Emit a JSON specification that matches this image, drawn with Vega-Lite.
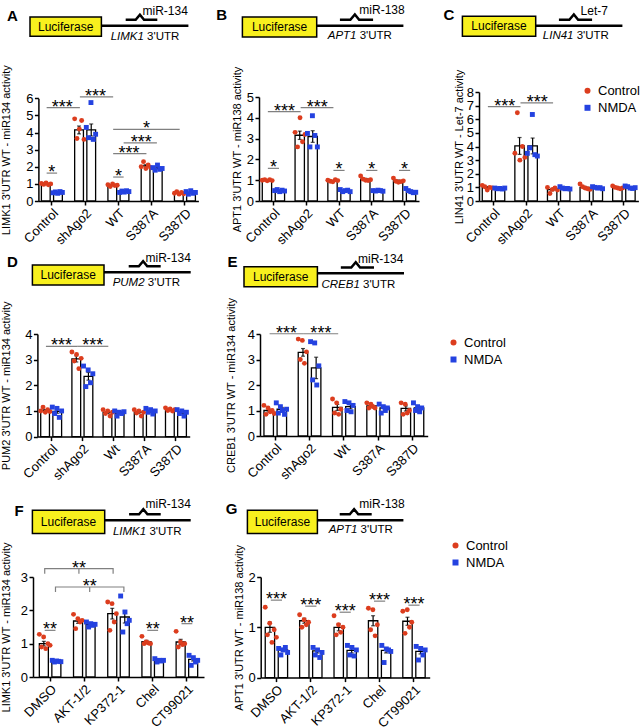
{
"$schema": "https://vega.github.io/schema/vega-lite/v6.json",
"padding": 0,
"config": {
 "font": "Liberation Sans",
 "view": {"stroke": null},
 "axis": {"domainColor": "black", "domainWidth": 1.5, "tickColor": "black", "tickWidth": 1.5, "tickSize": 4, "labelColor": "black", "labelFontSize": 12, "labelFont": "Liberation Sans", "titleFont": "Liberation Sans", "titleFontSize": 11, "titleFontWeight": "normal", "titleColor": "black", "grid": false, "labelPadding": 1.5},
 "axisX": {"labelAngle": -45, "title": null, "labelFontSize": 13},
 "axisY": {"labelFontSize": 13, "format": "d", "labelOverlap": false, "labelFlush": false},
 "legend": {"labelFont": "Liberation Sans", "labelFontSize": 13, "labelColor": "black", "symbolSize": 36, "rowPadding": 3, "padding": 0, "labelOffset": 4, "symbolStrokeWidth": 0, "title": null},
 "text": {"color": "black", "font": "Liberation Sans"}
},
"datasets": {
"bars": [
{"p":"A","g":"Control","c":"Control","m":1.0,"e":0.02},{"p":"A","g":"Control","c":"NMDA","m":0.5,"e":0.02},
{"p":"A","g":"shAgo2","c":"Control","m":4.15,"e":0.23},{"p":"A","g":"shAgo2","c":"NMDA","m":4.15,"e":0.35},
{"p":"A","g":"WT","c":"Control","m":0.92,"e":0.03},{"p":"A","g":"WT","c":"NMDA","m":0.55,"e":0.02},
{"p":"A","g":"S387A","c":"Control","m":2.05,"e":0.07},{"p":"A","g":"S387A","c":"NMDA","m":1.92,"e":0.05},
{"p":"A","g":"S387D","c":"Control","m":0.46,"e":0.03},{"p":"A","g":"S387D","c":"NMDA","m":0.5,"e":0.04},
{"p":"B","g":"Control","c":"Control","m":1.0,"e":0.01},{"p":"B","g":"Control","c":"NMDA","m":0.5,"e":0.02},
{"p":"B","g":"shAgo2","c":"Control","m":3.16,"e":0.2},{"p":"B","g":"shAgo2","c":"NMDA","m":3.1,"e":0.28},
{"p":"B","g":"WT","c":"Control","m":0.97,"e":0.02},{"p":"B","g":"WT","c":"NMDA","m":0.49,"e":0.02},
{"p":"B","g":"S387A","c":"Control","m":1.05,"e":0.04},{"p":"B","g":"S387A","c":"NMDA","m":0.49,"e":0.01},
{"p":"B","g":"S387D","c":"Control","m":0.97,"e":0.04},{"p":"B","g":"S387D","c":"NMDA","m":0.47,"e":0.04},
{"p":"C","g":"Control","c":"Control","m":1.0,"e":0.06},{"p":"C","g":"Control","c":"NMDA","m":0.92,"e":0.015},
{"p":"C","g":"shAgo2","c":"Control","m":4.04,"e":0.62},{"p":"C","g":"shAgo2","c":"NMDA","m":4.04,"e":0.58},
{"p":"C","g":"WT","c":"Control","m":0.83,"e":0.08},{"p":"C","g":"WT","c":"NMDA","m":0.94,"e":0.03},
{"p":"C","g":"S387A","c":"Control","m":1.0,"e":0.07},{"p":"C","g":"S387A","c":"NMDA","m":0.98,"e":0.03},
{"p":"C","g":"S387D","c":"Control","m":0.98,"e":0.03},{"p":"C","g":"S387D","c":"NMDA","m":1.0,"e":0.03},
{"p":"D","g":"Control","c":"Control","m":1.02,"e":0.03},{"p":"D","g":"Control","c":"NMDA","m":0.98,"e":0.07},
{"p":"D","g":"shAgo2","c":"Control","m":3.03,"e":0.12},{"p":"D","g":"shAgo2","c":"NMDA","m":2.35,"e":0.15},
{"p":"D","g":"Wt","c":"Control","m":0.94,"e":0.04},{"p":"D","g":"Wt","c":"NMDA","m":0.92,"e":0.03},
{"p":"D","g":"S387A","c":"Control","m":0.95,"e":0.04},{"p":"D","g":"S387A","c":"NMDA","m":0.99,"e":0.04},
{"p":"D","g":"S387D","c":"Control","m":1.05,"e":0.02},{"p":"D","g":"S387D","c":"NMDA","m":0.94,"e":0.04},
{"p":"E","g":"Control","c":"Control","m":1.0,"e":0.06},{"p":"E","g":"Control","c":"NMDA","m":1.05,"e":0.07},
{"p":"E","g":"shAgo2","c":"Control","m":3.28,"e":0.15},{"p":"E","g":"shAgo2","c":"NMDA","m":2.67,"e":0.42},
{"p":"E","g":"Wt","c":"Control","m":1.12,"e":0.12},{"p":"E","g":"Wt","c":"NMDA","m":1.15,"e":0.08},
{"p":"E","g":"S387A","c":"Control","m":1.18,"e":0.04},{"p":"E","g":"S387A","c":"NMDA","m":1.1,"e":0.06},
{"p":"E","g":"S387D","c":"Control","m":1.08,"e":0.1},{"p":"E","g":"S387D","c":"NMDA","m":1.1,"e":0.05},
{"p":"F","g":"DMSO","c":"Control","m":1.0,"e":0.07},{"p":"F","g":"DMSO","c":"NMDA","m":0.47,"e":0.01},
{"p":"F","g":"AKT-1/2","c":"Control","m":1.68,"e":0.07},{"p":"F","g":"AKT-1/2","c":"NMDA","m":1.57,"e":0.03},
{"p":"F","g":"KP372-1","c":"Control","m":1.9,"e":0.16},{"p":"F","g":"KP372-1","c":"NMDA","m":1.8,"e":0.18},
{"p":"F","g":"Chel","c":"Control","m":1.06,"e":0.04},{"p":"F","g":"Chel","c":"NMDA","m":0.5,"e":0.03},
{"p":"F","g":"CT99021","c":"Control","m":1.05,"e":0.08},{"p":"F","g":"CT99021","c":"NMDA","m":0.53,"e":0.05},
{"p":"G","g":"DMSO","c":"Control","m":1.0,"e":0.1},{"p":"G","g":"DMSO","c":"NMDA","m":0.55,"e":0.03},
{"p":"G","g":"AKT-1/2","c":"Control","m":1.13,"e":0.05},{"p":"G","g":"AKT-1/2","c":"NMDA","m":0.53,"e":0.04},
{"p":"G","g":"KP372-1","c":"Control","m":1.0,"e":0.07},{"p":"G","g":"KP372-1","c":"NMDA","m":0.54,"e":0.05},
{"p":"G","g":"Chel","c":"Control","m":1.13,"e":0.1},{"p":"G","g":"Chel","c":"NMDA","m":0.54,"e":0.05},
{"p":"G","g":"CT99021","c":"Control","m":1.12,"e":0.08},{"p":"G","g":"CT99021","c":"NMDA","m":0.52,"e":0.05}
],
"pts": [
{"p":"A","g":"Control","c":"Control","v":1.02},{"p":"A","g":"Control","c":"Control","v":0.97},{"p":"A","g":"Control","c":"Control","v":1.05},{"p":"A","g":"Control","c":"Control","v":0.95},{"p":"A","g":"Control","c":"Control","v":1.0},
{"p":"A","g":"Control","c":"NMDA","v":0.48},{"p":"A","g":"Control","c":"NMDA","v":0.53},{"p":"A","g":"Control","c":"NMDA","v":0.45},{"p":"A","g":"Control","c":"NMDA","v":0.55},{"p":"A","g":"Control","c":"NMDA","v":0.5},
{"p":"A","g":"shAgo2","c":"Control","v":4.8},{"p":"A","g":"shAgo2","c":"Control","v":3.65},{"p":"A","g":"shAgo2","c":"Control","v":4.2},{"p":"A","g":"shAgo2","c":"Control","v":4.7},{"p":"A","g":"shAgo2","c":"Control","v":3.6},
{"p":"A","g":"shAgo2","c":"NMDA","v":4.3},{"p":"A","g":"shAgo2","c":"NMDA","v":3.7},{"p":"A","g":"shAgo2","c":"NMDA","v":5.75},{"p":"A","g":"shAgo2","c":"NMDA","v":3.6},{"p":"A","g":"shAgo2","c":"NMDA","v":3.9},
{"p":"A","g":"WT","c":"Control","v":0.95},{"p":"A","g":"WT","c":"Control","v":0.85},{"p":"A","g":"WT","c":"Control","v":1.0},{"p":"A","g":"WT","c":"Control","v":0.9},{"p":"A","g":"WT","c":"Control","v":0.92},
{"p":"A","g":"WT","c":"NMDA","v":0.5},{"p":"A","g":"WT","c":"NMDA","v":0.58},{"p":"A","g":"WT","c":"NMDA","v":0.52},{"p":"A","g":"WT","c":"NMDA","v":0.6},{"p":"A","g":"WT","c":"NMDA","v":0.55},
{"p":"A","g":"S387A","c":"Control","v":2.0},{"p":"A","g":"S387A","c":"Control","v":2.3},{"p":"A","g":"S387A","c":"Control","v":1.9},{"p":"A","g":"S387A","c":"Control","v":2.1},{"p":"A","g":"S387A","c":"Control","v":1.95},
{"p":"A","g":"S387A","c":"NMDA","v":1.95},{"p":"A","g":"S387A","c":"NMDA","v":1.8},{"p":"A","g":"S387A","c":"NMDA","v":2.1},{"p":"A","g":"S387A","c":"NMDA","v":1.85},{"p":"A","g":"S387A","c":"NMDA","v":1.9},
{"p":"A","g":"S387D","c":"Control","v":0.45},{"p":"A","g":"S387D","c":"Control","v":0.55},{"p":"A","g":"S387D","c":"Control","v":0.4},{"p":"A","g":"S387D","c":"Control","v":0.5},{"p":"A","g":"S387D","c":"Control","v":0.42},
{"p":"A","g":"S387D","c":"NMDA","v":0.55},{"p":"A","g":"S387D","c":"NMDA","v":0.4},{"p":"A","g":"S387D","c":"NMDA","v":0.6},{"p":"A","g":"S387D","c":"NMDA","v":0.45},{"p":"A","g":"S387D","c":"NMDA","v":0.5},
{"p":"B","g":"Control","c":"Control","v":1.0},{"p":"B","g":"Control","c":"Control","v":1.03},{"p":"B","g":"Control","c":"Control","v":0.97},{"p":"B","g":"Control","c":"Control","v":1.02},{"p":"B","g":"Control","c":"Control","v":0.98},
{"p":"B","g":"Control","c":"NMDA","v":0.5},{"p":"B","g":"Control","c":"NMDA","v":0.55},{"p":"B","g":"Control","c":"NMDA","v":0.45},{"p":"B","g":"Control","c":"NMDA","v":0.52},{"p":"B","g":"Control","c":"NMDA","v":0.48},
{"p":"B","g":"shAgo2","c":"Control","v":3.3},{"p":"B","g":"shAgo2","c":"Control","v":2.6},{"p":"B","g":"shAgo2","c":"Control","v":4.0},{"p":"B","g":"shAgo2","c":"Control","v":2.85},{"p":"B","g":"shAgo2","c":"Control","v":3.2},
{"p":"B","g":"shAgo2","c":"NMDA","v":3.25},{"p":"B","g":"shAgo2","c":"NMDA","v":2.6},{"p":"B","g":"shAgo2","c":"NMDA","v":4.1},{"p":"B","g":"shAgo2","c":"NMDA","v":3.15},{"p":"B","g":"shAgo2","c":"NMDA","v":2.6},
{"p":"B","g":"WT","c":"Control","v":1.0},{"p":"B","g":"WT","c":"Control","v":0.95},{"p":"B","g":"WT","c":"Control","v":0.92},{"p":"B","g":"WT","c":"Control","v":1.02},{"p":"B","g":"WT","c":"Control","v":0.98},
{"p":"B","g":"WT","c":"NMDA","v":0.55},{"p":"B","g":"WT","c":"NMDA","v":0.45},{"p":"B","g":"WT","c":"NMDA","v":0.5},{"p":"B","g":"WT","c":"NMDA","v":0.52},{"p":"B","g":"WT","c":"NMDA","v":0.45},
{"p":"B","g":"S387A","c":"Control","v":1.2},{"p":"B","g":"S387A","c":"Control","v":1.05},{"p":"B","g":"S387A","c":"Control","v":1.0},{"p":"B","g":"S387A","c":"Control","v":0.98},{"p":"B","g":"S387A","c":"Control","v":1.02},
{"p":"B","g":"S387A","c":"NMDA","v":0.5},{"p":"B","g":"S387A","c":"NMDA","v":0.48},{"p":"B","g":"S387A","c":"NMDA","v":0.52},{"p":"B","g":"S387A","c":"NMDA","v":0.5},{"p":"B","g":"S387A","c":"NMDA","v":0.47},
{"p":"B","g":"S387D","c":"Control","v":1.1},{"p":"B","g":"S387D","c":"Control","v":0.95},{"p":"B","g":"S387D","c":"Control","v":0.9},{"p":"B","g":"S387D","c":"Control","v":0.93},{"p":"B","g":"S387D","c":"Control","v":0.97},
{"p":"B","g":"S387D","c":"NMDA","v":0.6},{"p":"B","g":"S387D","c":"NMDA","v":0.5},{"p":"B","g":"S387D","c":"NMDA","v":0.45},{"p":"B","g":"S387D","c":"NMDA","v":0.4},{"p":"B","g":"S387D","c":"NMDA","v":0.42},
{"p":"C","g":"Control","c":"Control","v":1.15},{"p":"C","g":"Control","c":"Control","v":1.05},{"p":"C","g":"Control","c":"Control","v":0.8},{"p":"C","g":"Control","c":"Control","v":1.0},{"p":"C","g":"Control","c":"Control","v":0.95},
{"p":"C","g":"Control","c":"NMDA","v":0.95},{"p":"C","g":"Control","c":"NMDA","v":0.9},{"p":"C","g":"Control","c":"NMDA","v":0.92},{"p":"C","g":"Control","c":"NMDA","v":0.88},{"p":"C","g":"Control","c":"NMDA","v":0.95},
{"p":"C","g":"shAgo2","c":"Control","v":3.5},{"p":"C","g":"shAgo2","c":"Control","v":6.48},{"p":"C","g":"shAgo2","c":"Control","v":3.0},{"p":"C","g":"shAgo2","c":"Control","v":4.0},{"p":"C","g":"shAgo2","c":"Control","v":3.2},
{"p":"C","g":"shAgo2","c":"NMDA","v":3.5},{"p":"C","g":"shAgo2","c":"NMDA","v":3.9},{"p":"C","g":"shAgo2","c":"NMDA","v":6.35},{"p":"C","g":"shAgo2","c":"NMDA","v":3.4},{"p":"C","g":"shAgo2","c":"NMDA","v":3.3},
{"p":"C","g":"WT","c":"Control","v":1.0},{"p":"C","g":"WT","c":"Control","v":0.55},{"p":"C","g":"WT","c":"Control","v":0.85},{"p":"C","g":"WT","c":"Control","v":0.95},{"p":"C","g":"WT","c":"Control","v":0.8},
{"p":"C","g":"WT","c":"NMDA","v":1.05},{"p":"C","g":"WT","c":"NMDA","v":0.95},{"p":"C","g":"WT","c":"NMDA","v":0.9},{"p":"C","g":"WT","c":"NMDA","v":0.92},{"p":"C","g":"WT","c":"NMDA","v":0.88},
{"p":"C","g":"S387A","c":"Control","v":1.25},{"p":"C","g":"S387A","c":"Control","v":1.05},{"p":"C","g":"S387A","c":"Control","v":0.95},{"p":"C","g":"S387A","c":"Control","v":0.9},{"p":"C","g":"S387A","c":"Control","v":0.85},
{"p":"C","g":"S387A","c":"NMDA","v":1.05},{"p":"C","g":"S387A","c":"NMDA","v":1.0},{"p":"C","g":"S387A","c":"NMDA","v":0.95},{"p":"C","g":"S387A","c":"NMDA","v":0.98},{"p":"C","g":"S387A","c":"NMDA","v":0.9},
{"p":"C","g":"S387D","c":"Control","v":1.1},{"p":"C","g":"S387D","c":"Control","v":1.0},{"p":"C","g":"S387D","c":"Control","v":0.95},{"p":"C","g":"S387D","c":"Control","v":0.9},{"p":"C","g":"S387D","c":"Control","v":0.95},
{"p":"C","g":"S387D","c":"NMDA","v":1.1},{"p":"C","g":"S387D","c":"NMDA","v":1.05},{"p":"C","g":"S387D","c":"NMDA","v":0.95},{"p":"C","g":"S387D","c":"NMDA","v":0.92},{"p":"C","g":"S387D","c":"NMDA","v":0.98},
{"p":"D","g":"Control","c":"Control","v":1.0},{"p":"D","g":"Control","c":"Control","v":1.15},{"p":"D","g":"Control","c":"Control","v":0.95},{"p":"D","g":"Control","c":"Control","v":1.05},{"p":"D","g":"Control","c":"Control","v":0.98},
{"p":"D","g":"Control","c":"NMDA","v":1.15},{"p":"D","g":"Control","c":"NMDA","v":0.9},{"p":"D","g":"Control","c":"NMDA","v":1.1},{"p":"D","g":"Control","c":"NMDA","v":0.75},{"p":"D","g":"Control","c":"NMDA","v":1.0},
{"p":"D","g":"shAgo2","c":"Control","v":3.3},{"p":"D","g":"shAgo2","c":"Control","v":2.95},{"p":"D","g":"shAgo2","c":"Control","v":3.2},{"p":"D","g":"shAgo2","c":"Control","v":2.65},{"p":"D","g":"shAgo2","c":"Control","v":3.05},
{"p":"D","g":"shAgo2","c":"NMDA","v":2.75},{"p":"D","g":"shAgo2","c":"NMDA","v":1.95},{"p":"D","g":"shAgo2","c":"NMDA","v":2.6},{"p":"D","g":"shAgo2","c":"NMDA","v":2.1},{"p":"D","g":"shAgo2","c":"NMDA","v":2.45},
{"p":"D","g":"Wt","c":"Control","v":1.05},{"p":"D","g":"Wt","c":"Control","v":0.9},{"p":"D","g":"Wt","c":"Control","v":1.0},{"p":"D","g":"Wt","c":"Control","v":0.8},{"p":"D","g":"Wt","c":"Control","v":0.95},
{"p":"D","g":"Wt","c":"NMDA","v":1.0},{"p":"D","g":"Wt","c":"NMDA","v":0.8},{"p":"D","g":"Wt","c":"NMDA","v":0.95},{"p":"D","g":"Wt","c":"NMDA","v":0.9},{"p":"D","g":"Wt","c":"NMDA","v":0.97},
{"p":"D","g":"S387A","c":"Control","v":1.05},{"p":"D","g":"S387A","c":"Control","v":0.92},{"p":"D","g":"S387A","c":"Control","v":1.0},{"p":"D","g":"S387A","c":"Control","v":0.8},{"p":"D","g":"S387A","c":"Control","v":0.95},
{"p":"D","g":"S387A","c":"NMDA","v":1.1},{"p":"D","g":"S387A","c":"NMDA","v":0.95},{"p":"D","g":"S387A","c":"NMDA","v":1.05},{"p":"D","g":"S387A","c":"NMDA","v":0.88},{"p":"D","g":"S387A","c":"NMDA","v":1.0},
{"p":"D","g":"S387D","c":"Control","v":1.12},{"p":"D","g":"S387D","c":"Control","v":1.02},{"p":"D","g":"S387D","c":"Control","v":1.08},{"p":"D","g":"S387D","c":"Control","v":1.0},{"p":"D","g":"S387D","c":"Control","v":1.05},
{"p":"D","g":"S387D","c":"NMDA","v":1.05},{"p":"D","g":"S387D","c":"NMDA","v":0.9},{"p":"D","g":"S387D","c":"NMDA","v":1.0},{"p":"D","g":"S387D","c":"NMDA","v":0.8},{"p":"D","g":"S387D","c":"NMDA","v":0.95},
{"p":"E","g":"Control","c":"Control","v":1.2},{"p":"E","g":"Control","c":"Control","v":0.85},{"p":"E","g":"Control","c":"Control","v":1.1},{"p":"E","g":"Control","c":"Control","v":0.95},{"p":"E","g":"Control","c":"Control","v":1.0},{"p":"E","g":"Control","c":"Control","v":0.88},
{"p":"E","g":"Control","c":"NMDA","v":1.3},{"p":"E","g":"Control","c":"NMDA","v":0.9},{"p":"E","g":"Control","c":"NMDA","v":1.15},{"p":"E","g":"Control","c":"NMDA","v":1.0},{"p":"E","g":"Control","c":"NMDA","v":0.85},{"p":"E","g":"Control","c":"NMDA","v":1.05},
{"p":"E","g":"shAgo2","c":"Control","v":3.8},{"p":"E","g":"shAgo2","c":"Control","v":3.0},{"p":"E","g":"shAgo2","c":"Control","v":3.75},{"p":"E","g":"shAgo2","c":"Control","v":2.85},{"p":"E","g":"shAgo2","c":"Control","v":3.3},
{"p":"E","g":"shAgo2","c":"NMDA","v":3.7},{"p":"E","g":"shAgo2","c":"NMDA","v":2.2},{"p":"E","g":"shAgo2","c":"NMDA","v":3.65},{"p":"E","g":"shAgo2","c":"NMDA","v":2.0},{"p":"E","g":"shAgo2","c":"NMDA","v":2.75},
{"p":"E","g":"Wt","c":"Control","v":1.45},{"p":"E","g":"Wt","c":"Control","v":0.9},{"p":"E","g":"Wt","c":"Control","v":1.3},{"p":"E","g":"Wt","c":"Control","v":0.85},{"p":"E","g":"Wt","c":"Control","v":1.05},
{"p":"E","g":"Wt","c":"NMDA","v":1.35},{"p":"E","g":"Wt","c":"NMDA","v":1.0},{"p":"E","g":"Wt","c":"NMDA","v":1.3},{"p":"E","g":"Wt","c":"NMDA","v":0.95},{"p":"E","g":"Wt","c":"NMDA","v":1.2},
{"p":"E","g":"S387A","c":"Control","v":1.3},{"p":"E","g":"S387A","c":"Control","v":1.1},{"p":"E","g":"S387A","c":"Control","v":1.25},{"p":"E","g":"S387A","c":"Control","v":1.15},{"p":"E","g":"S387A","c":"Control","v":1.1},
{"p":"E","g":"S387A","c":"NMDA","v":1.25},{"p":"E","g":"S387A","c":"NMDA","v":0.9},{"p":"E","g":"S387A","c":"NMDA","v":1.15},{"p":"E","g":"S387A","c":"NMDA","v":1.0},{"p":"E","g":"S387A","c":"NMDA","v":1.1},
{"p":"E","g":"S387D","c":"Control","v":1.3},{"p":"E","g":"S387D","c":"Control","v":0.85},{"p":"E","g":"S387D","c":"Control","v":1.25},{"p":"E","g":"S387D","c":"Control","v":0.9},{"p":"E","g":"S387D","c":"Control","v":1.0},
{"p":"E","g":"S387D","c":"NMDA","v":1.3},{"p":"E","g":"S387D","c":"NMDA","v":1.0},{"p":"E","g":"S387D","c":"NMDA","v":1.15},{"p":"E","g":"S387D","c":"NMDA","v":0.95},{"p":"E","g":"S387D","c":"NMDA","v":1.1},
{"p":"F","g":"DMSO","c":"Control","v":1.28},{"p":"F","g":"DMSO","c":"Control","v":0.9},{"p":"F","g":"DMSO","c":"Control","v":1.2},{"p":"F","g":"DMSO","c":"Control","v":0.85},{"p":"F","g":"DMSO","c":"Control","v":1.0},{"p":"F","g":"DMSO","c":"Control","v":0.95},
{"p":"F","g":"DMSO","c":"NMDA","v":0.5},{"p":"F","g":"DMSO","c":"NMDA","v":0.45},{"p":"F","g":"DMSO","c":"NMDA","v":0.48},{"p":"F","g":"DMSO","c":"NMDA","v":0.47},{"p":"F","g":"DMSO","c":"NMDA","v":0.46},
{"p":"F","g":"AKT-1/2","c":"Control","v":1.88},{"p":"F","g":"AKT-1/2","c":"Control","v":1.45},{"p":"F","g":"AKT-1/2","c":"Control","v":1.75},{"p":"F","g":"AKT-1/2","c":"Control","v":1.65},{"p":"F","g":"AKT-1/2","c":"Control","v":1.7},
{"p":"F","g":"AKT-1/2","c":"NMDA","v":1.65},{"p":"F","g":"AKT-1/2","c":"NMDA","v":1.5},{"p":"F","g":"AKT-1/2","c":"NMDA","v":1.6},{"p":"F","g":"AKT-1/2","c":"NMDA","v":1.55},{"p":"F","g":"AKT-1/2","c":"NMDA","v":1.58},
{"p":"F","g":"KP372-1","c":"Control","v":2.25},{"p":"F","g":"KP372-1","c":"Control","v":1.4},{"p":"F","g":"KP372-1","c":"Control","v":2.2},{"p":"F","g":"KP372-1","c":"Control","v":1.65},{"p":"F","g":"KP372-1","c":"Control","v":1.9},
{"p":"F","g":"KP372-1","c":"NMDA","v":2.43},{"p":"F","g":"KP372-1","c":"NMDA","v":1.35},{"p":"F","g":"KP372-1","c":"NMDA","v":1.95},{"p":"F","g":"KP372-1","c":"NMDA","v":1.6},{"p":"F","g":"KP372-1","c":"NMDA","v":1.7},
{"p":"F","g":"Chel","c":"Control","v":1.22},{"p":"F","g":"Chel","c":"Control","v":1.0},{"p":"F","g":"Chel","c":"Control","v":1.05},{"p":"F","g":"Chel","c":"Control","v":1.02},{"p":"F","g":"Chel","c":"Control","v":1.0},
{"p":"F","g":"Chel","c":"NMDA","v":0.55},{"p":"F","g":"Chel","c":"NMDA","v":0.45},{"p":"F","g":"Chel","c":"NMDA","v":0.5},{"p":"F","g":"Chel","c":"NMDA","v":0.48},{"p":"F","g":"Chel","c":"NMDA","v":0.5},
{"p":"F","g":"CT99021","c":"Control","v":1.37},{"p":"F","g":"CT99021","c":"Control","v":0.9},{"p":"F","g":"CT99021","c":"Control","v":1.05},{"p":"F","g":"CT99021","c":"Control","v":0.97},{"p":"F","g":"CT99021","c":"Control","v":1.0},
{"p":"F","g":"CT99021","c":"NMDA","v":0.65},{"p":"F","g":"CT99021","c":"NMDA","v":0.35},{"p":"F","g":"CT99021","c":"NMDA","v":0.58},{"p":"F","g":"CT99021","c":"NMDA","v":0.45},{"p":"F","g":"CT99021","c":"NMDA","v":0.5},
{"p":"G","g":"DMSO","c":"Control","v":1.4},{"p":"G","g":"DMSO","c":"Control","v":0.85},{"p":"G","g":"DMSO","c":"Control","v":1.08},{"p":"G","g":"DMSO","c":"Control","v":0.7},{"p":"G","g":"DMSO","c":"Control","v":0.95},{"p":"G","g":"DMSO","c":"Control","v":0.8},
{"p":"G","g":"DMSO","c":"NMDA","v":0.58},{"p":"G","g":"DMSO","c":"NMDA","v":0.45},{"p":"G","g":"DMSO","c":"NMDA","v":0.55},{"p":"G","g":"DMSO","c":"NMDA","v":0.6},{"p":"G","g":"DMSO","c":"NMDA","v":0.5},
{"p":"G","g":"AKT-1/2","c":"Control","v":1.25},{"p":"G","g":"AKT-1/2","c":"Control","v":1.0},{"p":"G","g":"AKT-1/2","c":"Control","v":1.15},{"p":"G","g":"AKT-1/2","c":"Control","v":1.05},{"p":"G","g":"AKT-1/2","c":"Control","v":1.1},
{"p":"G","g":"AKT-1/2","c":"NMDA","v":0.6},{"p":"G","g":"AKT-1/2","c":"NMDA","v":0.45},{"p":"G","g":"AKT-1/2","c":"NMDA","v":0.55},{"p":"G","g":"AKT-1/2","c":"NMDA","v":0.4},{"p":"G","g":"AKT-1/2","c":"NMDA","v":0.5},
{"p":"G","g":"KP372-1","c":"Control","v":1.23},{"p":"G","g":"KP372-1","c":"Control","v":0.85},{"p":"G","g":"KP372-1","c":"Control","v":1.05},{"p":"G","g":"KP372-1","c":"Control","v":0.9},{"p":"G","g":"KP372-1","c":"Control","v":1.0},
{"p":"G","g":"KP372-1","c":"NMDA","v":0.64},{"p":"G","g":"KP372-1","c":"NMDA","v":0.45},{"p":"G","g":"KP372-1","c":"NMDA","v":0.6},{"p":"G","g":"KP372-1","c":"NMDA","v":0.43},{"p":"G","g":"KP372-1","c":"NMDA","v":0.55},
{"p":"G","g":"Chel","c":"Control","v":1.38},{"p":"G","g":"Chel","c":"Control","v":0.95},{"p":"G","g":"Chel","c":"Control","v":1.35},{"p":"G","g":"Chel","c":"Control","v":0.83},{"p":"G","g":"Chel","c":"Control","v":1.05},
{"p":"G","g":"Chel","c":"NMDA","v":0.64},{"p":"G","g":"Chel","c":"NMDA","v":0.3},{"p":"G","g":"Chel","c":"NMDA","v":0.57},{"p":"G","g":"Chel","c":"NMDA","v":0.55},{"p":"G","g":"Chel","c":"NMDA","v":0.52},
{"p":"G","g":"CT99021","c":"Control","v":1.32},{"p":"G","g":"CT99021","c":"Control","v":0.88},{"p":"G","g":"CT99021","c":"Control","v":1.35},{"p":"G","g":"CT99021","c":"Control","v":1.0},{"p":"G","g":"CT99021","c":"Control","v":1.1},
{"p":"G","g":"CT99021","c":"NMDA","v":0.62},{"p":"G","g":"CT99021","c":"NMDA","v":0.35},{"p":"G","g":"CT99021","c":"NMDA","v":0.58},{"p":"G","g":"CT99021","c":"NMDA","v":0.45},{"p":"G","g":"CT99021","c":"NMDA","v":0.55}
],
"br": [
{"p":"A","id":1,"q":1,"g":"Control","o":"C","y":1.63},{"p":"A","id":1,"q":2,"g":"Control","o":"N","y":1.63},
{"p":"A","id":2,"q":1,"g":"Control","o":"C","y":5.45},{"p":"A","id":2,"q":2,"g":"shAgo2","o":"C","y":5.45},
{"p":"A","id":3,"q":1,"g":"shAgo2","o":"C","y":6.08},{"p":"A","id":3,"q":2,"g":"WT","o":"C","y":6.08},
{"p":"A","id":4,"q":1,"g":"WT","o":"C","y":4.18},{"p":"A","id":4,"q":2,"g":"S387D","o":"C","y":4.18},
{"p":"A","id":5,"q":1,"g":"WT","o":"N","y":3.4},{"p":"A","id":5,"q":2,"g":"S387A","o":"N","y":3.4},
{"p":"A","id":6,"q":1,"g":"WT","o":"C","y":2.77},{"p":"A","id":6,"q":2,"g":"S387A","o":"C","y":2.77},
{"p":"A","id":7,"q":1,"g":"WT","o":"C","y":1.4},{"p":"A","id":7,"q":2,"g":"WT","o":"N","y":1.4},
{"p":"B","id":1,"q":1,"g":"Control","o":"C","y":1.57},{"p":"B","id":1,"q":2,"g":"Control","o":"N","y":1.57},
{"p":"B","id":2,"q":1,"g":"Control","o":"C","y":4.3},{"p":"B","id":2,"q":2,"g":"shAgo2","o":"C","y":4.3},
{"p":"B","id":3,"q":1,"g":"shAgo2","o":"C","y":4.49},{"p":"B","id":3,"q":2,"g":"WT","o":"C","y":4.49},
{"p":"B","id":4,"q":1,"g":"WT","o":"C","y":1.47},{"p":"B","id":4,"q":2,"g":"WT","o":"N","y":1.47},
{"p":"B","id":5,"q":1,"g":"S387A","o":"C","y":1.47},{"p":"B","id":5,"q":2,"g":"S387A","o":"N","y":1.47},
{"p":"B","id":6,"q":1,"g":"S387D","o":"C","y":1.47},{"p":"B","id":6,"q":2,"g":"S387D","o":"N","y":1.47},
{"p":"C","id":1,"q":1,"g":"Control","o":"C","y":6.92},{"p":"C","id":1,"q":2,"g":"shAgo2","o":"C","y":6.92},
{"p":"C","id":2,"q":1,"g":"shAgo2","o":"C","y":7.2},{"p":"C","id":2,"q":2,"g":"WT","o":"C","y":7.2},
{"p":"D","id":1,"q":1,"g":"Control","o":"C","y":3.52},{"p":"D","id":1,"q":2,"g":"shAgo2","o":"C","y":3.52},
{"p":"D","id":2,"q":1,"g":"shAgo2","o":"C","y":3.52},{"p":"D","id":2,"q":2,"g":"Wt","o":"C","y":3.52},
{"p":"E","id":1,"q":1,"g":"Control","o":"C","y":4.01},{"p":"E","id":1,"q":2,"g":"shAgo2","o":"C","y":4.01},
{"p":"E","id":2,"q":1,"g":"shAgo2","o":"C","y":4.01},{"p":"E","id":2,"q":2,"g":"Wt","o":"C","y":4.01},
{"p":"F","id":1,"q":1,"g":"DMSO","o":"C","y":1.4},{"p":"F","id":1,"q":2,"g":"DMSO","o":"N","y":1.4},
{"p":"F","id":2,"q":1,"g":"Chel","o":"C","y":1.4},{"p":"F","id":2,"q":2,"g":"Chel","o":"N","y":1.4},
{"p":"F","id":3,"q":1,"g":"CT99021","o":"C","y":1.6},{"p":"F","id":3,"q":2,"g":"CT99021","o":"N","y":1.6},
{"p":"F","id":4,"q":1,"g":"DMSO","o":"C","y":3.1},{"p":"F","id":4,"q":2,"g":"DMSO","o":"C","y":3.25},{"p":"F","id":4,"q":3,"g":"KP372-1","o":"C","y":3.25},{"p":"F","id":4,"q":4,"g":"KP372-1","o":"C","y":3.1},
{"p":"F","id":5,"q":1,"g":"AKT-1/2","o":"C","y":3.25},{"p":"F","id":5,"q":2,"g":"AKT-1/2","o":"C","y":3.1},
{"p":"F","id":6,"q":1,"g":"DMSO","o":"N","y":2.55},{"p":"F","id":6,"q":2,"g":"DMSO","o":"N","y":2.7},{"p":"F","id":6,"q":3,"g":"KP372-1","o":"N","y":2.7},{"p":"F","id":6,"q":4,"g":"KP372-1","o":"N","y":2.55},
{"p":"F","id":7,"q":1,"g":"AKT-1/2","o":"N","y":2.7},{"p":"F","id":7,"q":2,"g":"AKT-1/2","o":"N","y":2.55},
{"p":"G","id":1,"q":1,"g":"DMSO","o":"C","y":1.54},{"p":"G","id":1,"q":2,"g":"DMSO","o":"N","y":1.54},
{"p":"G","id":2,"q":1,"g":"AKT-1/2","o":"C","y":1.42},{"p":"G","id":2,"q":2,"g":"AKT-1/2","o":"N","y":1.42},
{"p":"G","id":3,"q":1,"g":"KP372-1","o":"C","y":1.3},{"p":"G","id":3,"q":2,"g":"KP372-1","o":"N","y":1.3},
{"p":"G","id":4,"q":1,"g":"Chel","o":"C","y":1.52},{"p":"G","id":4,"q":2,"g":"Chel","o":"N","y":1.52},
{"p":"G","id":5,"q":1,"g":"CT99021","o":"C","y":1.44},{"p":"G","id":5,"q":2,"g":"CT99021","o":"N","y":1.44}
],
"lab": [
{"p":"A","g":"Control","o":"M","y":1.63,"t":"*"},{"p":"A","g":"Control","o":"E","y":5.45,"t":"***"},{"p":"A","g":"shAgo2","o":"E","y":6.08,"t":"***"},{"p":"A","g":"S387A","o":"C","y":4.18,"t":"*"},{"p":"A","g":"S387A","o":"S","y":3.4,"t":"***"},{"p":"A","g":"WT","o":"E","y":2.77,"t":"***"},{"p":"A","g":"WT","o":"M","y":1.4,"t":"*"},
{"p":"B","g":"Control","o":"M","y":1.57,"t":"*"},{"p":"B","g":"Control","o":"E","y":4.3,"t":"***"},{"p":"B","g":"shAgo2","o":"E","y":4.49,"t":"***"},{"p":"B","g":"WT","o":"M","y":1.47,"t":"*"},{"p":"B","g":"S387A","o":"M","y":1.47,"t":"*"},{"p":"B","g":"S387D","o":"M","y":1.47,"t":"*"},
{"p":"C","g":"Control","o":"E","y":6.92,"t":"***"},{"p":"C","g":"shAgo2","o":"E","y":7.2,"t":"***"},
{"p":"D","g":"Control","o":"E","y":3.52,"t":"***"},{"p":"D","g":"shAgo2","o":"E","y":3.52,"t":"***"},
{"p":"E","g":"Control","o":"E","y":4.01,"t":"***"},{"p":"E","g":"shAgo2","o":"E","y":4.01,"t":"***"},
{"p":"F","g":"DMSO","o":"M","y":1.4,"t":"**"},{"p":"F","g":"Chel","o":"M","y":1.4,"t":"**"},{"p":"F","g":"CT99021","o":"M","y":1.6,"t":"**"},{"p":"F","g":"AKT-1/2","o":"C","y":3.25,"t":"**"},{"p":"F","g":"AKT-1/2","o":"N","y":2.7,"t":"**"},
{"p":"G","g":"DMSO","o":"M","y":1.54,"t":"***"},{"p":"G","g":"AKT-1/2","o":"M","y":1.42,"t":"***"},{"p":"G","g":"KP372-1","o":"M","y":1.3,"t":"***"},{"p":"G","g":"Chel","o":"M","y":1.52,"t":"***"},{"p":"G","g":"CT99021","o":"M","y":1.44,"t":"***"}
]
},
"columns": 5,
"align": "each",
"bounds": "flush",
"spacing": 0,
"resolve": {"scale": {"color": "independent", "shape": "independent", "xOffset": "independent"}, "legend": {"color": "independent", "shape": "independent"}},
"concat": [
{"width": 165.4, "height": 89, "data": {"values": [{}]},
 "layer": [
  {"mark": {"type": "rect", "fill": "#f8f01e", "stroke": "black", "strokeWidth": 1.5}, "encoding": {"x": {"datum": -3, "type": "quantitative", "scale": {"domain": [0, 165.4], "nice": false, "zero": false}, "axis": null}, "x2": {"datum": 68.4}, "y": {"datum": 14, "type": "quantitative", "scale": {"domain": [0, 89], "reverse": true, "nice": false, "zero": false}, "axis": null}, "y2": {"datum": 33.3}}},
  {"mark": {"type": "text", "text": "Luciferase", "fontSize": 12}, "encoding": {"x": {"datum": 32.7, "type": "quantitative", "axis": null}, "y": {"datum": 23.7, "type": "quantitative", "axis": null}}},
  {"mark": {"type": "rule", "color": "black", "strokeWidth": 2.5}, "encoding": {"x": {"datum": 68.4, "type": "quantitative", "axis": null}, "x2": {"datum": 155.4}, "y": {"datum": 22.7, "type": "quantitative", "axis": null}}},
  {"mark": {"type": "point", "shape": "M-1,0.16L-0.37,0.16L-0.1,-0.16L0.16,0.16L1,0.16", "size": 1000, "filled": false, "stroke": "black", "strokeWidth": 2.5, "opacity": 1}, "encoding": {"x": {"datum": 108.5, "type": "quantitative", "axis": null}, "y": {"datum": 14.2, "type": "quantitative", "axis": null}}},
  {"mark": {"type": "text", "text": "miR-134", "fontSize": 12}, "encoding": {"x": {"datum": 132.2, "type": "quantitative", "axis": null}, "y": {"datum": 7.5, "type": "quantitative", "axis": null}}},
  {"mark": {"type": "text", "text": "LIMK1", "fontSize": 11.5, "fontStyle": "italic", "align": "right"}, "encoding": {"x": {"datum": 110.9, "type": "quantitative", "axis": null}, "y": {"datum": 34, "type": "quantitative", "axis": null}}},
  {"mark": {"type": "text", "text": "3'UTR", "fontSize": 11.5, "align": "left"}, "encoding": {"x": {"datum": 114.1, "type": "quantitative", "axis": null}, "y": {"datum": 34, "type": "quantitative", "axis": null}}},
  {"mark": {"type": "text", "text": "A", "fontSize": 15, "fontWeight": "bold"}, "encoding": {"x": {"datum": -20.6, "type": "quantitative", "axis": null}, "y": {"datum": 12.5, "type": "quantitative", "axis": null}}}
 ]},
{"width": 55, "height": 1, "data": {"values": [{}]}, "mark": {"type": "point", "opacity": 0}},
{"width": 160, "height": 89, "data": {"values": [{}]},
 "layer": [
  {"mark": {"type": "rect", "fill": "#f8f01e", "stroke": "black", "strokeWidth": 1.5}, "encoding": {"x": {"datum": -16.6, "type": "quantitative", "scale": {"domain": [0, 160], "nice": false, "zero": false}, "axis": null}, "x2": {"datum": 57.7}, "y": {"datum": 14, "type": "quantitative", "scale": {"domain": [0, 89], "reverse": true, "nice": false, "zero": false}, "axis": null}, "y2": {"datum": 34}}},
  {"mark": {"type": "text", "text": "Luciferase", "fontSize": 12}, "encoding": {"x": {"datum": 20.6, "type": "quantitative", "axis": null}, "y": {"datum": 24, "type": "quantitative", "axis": null}}},
  {"mark": {"type": "rule", "color": "black", "strokeWidth": 2.5}, "encoding": {"x": {"datum": 57.7, "type": "quantitative", "axis": null}, "x2": {"datum": 144.4}, "y": {"datum": 22.7, "type": "quantitative", "axis": null}}},
  {"mark": {"type": "point", "shape": "M-1,0.16L-0.37,0.16L-0.1,-0.16L0.16,0.16L1,0.16", "size": 1100, "filled": false, "stroke": "black", "strokeWidth": 2.5, "opacity": 1}, "encoding": {"x": {"datum": 97.5, "type": "quantitative", "axis": null}, "y": {"datum": 14.2, "type": "quantitative", "axis": null}}},
  {"mark": {"type": "text", "text": "miR-138", "fontSize": 12}, "encoding": {"x": {"datum": 123, "type": "quantitative", "axis": null}, "y": {"datum": 7.3, "type": "quantitative", "axis": null}}},
  {"mark": {"type": "text", "text": "APT1", "fontSize": 11.5, "fontStyle": "italic", "align": "right"}, "encoding": {"x": {"datum": 97.5, "type": "quantitative", "axis": null}, "y": {"datum": 33.3, "type": "quantitative", "axis": null}}},
  {"mark": {"type": "text", "text": "3'UTR", "fontSize": 11.5, "align": "left"}, "encoding": {"x": {"datum": 100.7, "type": "quantitative", "axis": null}, "y": {"datum": 33.3, "type": "quantitative", "axis": null}}},
  {"mark": {"type": "text", "text": "B", "fontSize": 15, "fontWeight": "bold"}, "encoding": {"x": {"datum": -37.3, "type": "quantitative", "axis": null}, "y": {"datum": 12, "type": "quantitative", "axis": null}}}
 ]},
{"width": 49, "height": 1, "data": {"values": [{}]}, "mark": {"type": "point", "opacity": 0}},
{"width": 159.4, "height": 89, "data": {"values": [{}]},
 "layer": [
  {"mark": {"type": "rect", "fill": "#f8f01e", "stroke": "black", "strokeWidth": 1.5}, "encoding": {"x": {"datum": -16.6, "type": "quantitative", "scale": {"domain": [0, 159.4], "nice": false, "zero": false}, "axis": null}, "x2": {"datum": 56.7}, "y": {"datum": 13.3, "type": "quantitative", "scale": {"domain": [0, 89], "reverse": true, "nice": false, "zero": false}, "axis": null}, "y2": {"datum": 33.3}}},
  {"mark": {"type": "text", "text": "Luciferase", "fontSize": 12}, "encoding": {"x": {"datum": 20, "type": "quantitative", "axis": null}, "y": {"datum": 23.3, "type": "quantitative", "axis": null}}},
  {"mark": {"type": "rule", "color": "black", "strokeWidth": 2.5}, "encoding": {"x": {"datum": 56.7, "type": "quantitative", "axis": null}, "x2": {"datum": 143.4}, "y": {"datum": 22.7, "type": "quantitative", "axis": null}}},
  {"mark": {"type": "point", "shape": "M-1,0.16L-0.37,0.16L-0.1,-0.16L0.16,0.16L1,0.16", "size": 1100, "filled": false, "stroke": "black", "strokeWidth": 2.5, "opacity": 1}, "encoding": {"x": {"datum": 96.5, "type": "quantitative", "axis": null}, "y": {"datum": 14.2, "type": "quantitative", "axis": null}}},
  {"mark": {"type": "text", "text": "Let-7", "fontSize": 12}, "encoding": {"x": {"datum": 115.2, "type": "quantitative", "axis": null}, "y": {"datum": 8.4, "type": "quantitative", "axis": null}}},
  {"mark": {"type": "text", "text": "LIN41", "fontSize": 11.5, "fontStyle": "italic", "align": "right"}, "encoding": {"x": {"datum": 94.5, "type": "quantitative", "axis": null}, "y": {"datum": 33.3, "type": "quantitative", "axis": null}}},
  {"mark": {"type": "text", "text": "3'UTR", "fontSize": 11.5, "align": "left"}, "encoding": {"x": {"datum": 97.7, "type": "quantitative", "axis": null}, "y": {"datum": 33.3, "type": "quantitative", "axis": null}}},
  {"mark": {"type": "text", "text": "C", "fontSize": 15, "fontWeight": "bold"}, "encoding": {"x": {"datum": -30, "type": "quantitative", "axis": null}, "y": {"datum": 12, "type": "quantitative", "axis": null}}}
 ]},
{"width": 165.4, "height": 109,
 "encoding": {"x": {"field": "g", "type": "nominal", "sort": null, "scale": {"domain": ["Control", "shAgo2", "WT", "S387A", "S387D"], "range": [5.4, 165.4], "paddingInner": 0.37, "paddingOuter": 0.09}, "axis": {"title": null}}},
 "layer": [
  {"data": {"name": "bars"}, "transform": [{"filter": "datum.p==='A'"}], "mark": {"type": "bar", "fill": "white", "stroke": "black", "strokeWidth": 1.3},
   "encoding": {"xOffset": {"field": "c", "type": "nominal", "scale": {"domain": ["Control", "NMDA"], "paddingInner": 0.28, "paddingOuter": 0}}, "y": {"field": "m", "type": "quantitative", "scale": {"domain": [0, 6], "range": [109, 6.3], "nice": false}, "axis": {"title": "LIMK1 3'UTR WT - miR134 activity", "values": [0, 1, 2, 3, 4, 5, 6], "titlePadding": 14.4, "offset": -5.4}}}},
  {"data": {"name": "bars"}, "transform": [{"filter": "datum.p==='A'"}, {"calculate": "datum.m-datum.e", "as": "lo"}, {"calculate": "datum.m+datum.e", "as": "hi"}], "mark": {"type": "rule", "color": "black", "strokeWidth": 1.2},
   "encoding": {"xOffset": {"field": "c", "type": "nominal", "scale": {"domain": ["Control", "NMDA"], "paddingInner": 0.28, "paddingOuter": 0}}, "y": {"field": "lo", "type": "quantitative", "scale": {"domain": [0, 6], "range": [109, 6.3], "nice": false}, "axis": {"title": "LIMK1 3'UTR WT - miR134 activity", "values": [0, 1, 2, 3, 4, 5, 6], "titlePadding": 14.4, "offset": -5.4}}, "y2": {"field": "hi"}}},
  {"data": {"name": "bars"}, "transform": [{"filter": "datum.p==='A'"}, {"calculate": "datum.m-datum.e", "as": "lo"}, {"calculate": "datum.m+datum.e", "as": "hi"}, {"fold": ["lo", "hi"], "as": ["kk", "w"]}], "mark": {"type": "tick", "color": "black", "thickness": 1.2, "size": 4, "orient": "horizontal"},
   "encoding": {"xOffset": {"field": "c", "type": "nominal", "scale": {"domain": ["Control", "NMDA"], "paddingInner": 0.28, "paddingOuter": 0}}, "y": {"field": "w", "type": "quantitative", "scale": {"domain": [0, 6], "range": [109, 6.3], "nice": false}, "axis": {"title": "LIMK1 3'UTR WT - miR134 activity", "values": [0, 1, 2, 3, 4, 5, 6], "titlePadding": 14.4, "offset": -5.4}}}},
  {"data": {"name": "pts"}, "transform": [{"filter": "datum.p==='A'"}, {"window": [{"op": "row_number", "as": "r"}], "groupby": ["g", "c"]}, {"calculate": "datum.c+'-'+datum.r", "as": "k"}], "mark": {"type": "point", "filled": true, "opacity": 1, "size": 24},
   "encoding": {"xOffset": {"field": "k", "type": "nominal", "scale": {"paddingInner": 0, "paddingOuter": 0}}, "y": {"field": "v", "type": "quantitative", "scale": {"domain": [0, 6], "range": [109, 6.3], "nice": false}, "axis": {"title": "LIMK1 3'UTR WT - miR134 activity", "values": [0, 1, 2, 3, 4, 5, 6], "titlePadding": 14.4, "offset": -5.4}},
    "color": {"field": "c", "type": "nominal", "scale": {"domain": ["Control", "NMDA"], "range": ["#dc3d1e", "#2442e0"]}, "legend": null},
    "shape": {"field": "c", "type": "nominal", "scale": {"domain": ["Control", "NMDA"], "range": ["circle", "square"]}, "legend": null}}},
  {"data": {"name": "br"}, "transform": [{"filter": "datum.p==='A'"}], "mark": {"type": "line", "color": "#808080", "strokeWidth": 1.2},
   "encoding": {"xOffset": {"field": "o", "type": "nominal", "scale": {"type": "point", "domain": ["S", "C", "M", "N", "E"], "padding": 0}}, "y": {"field": "y", "type": "quantitative", "scale": {"domain": [0, 6], "range": [109, 6.3], "nice": false}, "axis": {"title": "LIMK1 3'UTR WT - miR134 activity", "values": [0, 1, 2, 3, 4, 5, 6], "titlePadding": 14.4, "offset": -5.4}}, "detail": {"field": "id"}, "order": {"field": "q"}}},
  {"data": {"name": "lab"}, "transform": [{"filter": "datum.p==='A'"}], "mark": {"type": "text", "fontSize": 18, "dy": 5, "baseline": "alphabetic"},
   "encoding": {"xOffset": {"field": "o", "type": "nominal", "scale": {"type": "point", "domain": ["S", "C", "M", "N", "E"], "padding": 0}}, "y": {"field": "y", "type": "quantitative", "scale": {"domain": [0, 6], "range": [109, 6.3], "nice": false}, "axis": {"title": "LIMK1 3'UTR WT - miR134 activity", "values": [0, 1, 2, 3, 4, 5, 6], "titlePadding": 14.4, "offset": -5.4}}, "text": {"field": "t"}}}
 ],
 "resolve": {"scale": {"xOffset": "independent"}}},
{"width": 55, "height": 1, "data": {"values": [{}]}, "mark": {"type": "point", "opacity": 0}},
{"width": 160, "height": 109,
 "encoding": {"x": {"field": "g", "type": "nominal", "sort": null, "scale": {"domain": ["Control", "shAgo2", "WT", "S387A", "S387D"], "paddingInner": 0.32, "paddingOuter": 0.1}, "axis": {"title": null}}},
 "layer": [
  {"data": {"name": "bars"}, "transform": [{"filter": "datum.p==='B'"}], "mark": {"type": "bar", "fill": "white", "stroke": "black", "strokeWidth": 1.3},
   "encoding": {"xOffset": {"field": "c", "type": "nominal", "scale": {"domain": ["Control", "NMDA"], "paddingInner": 0.28, "paddingOuter": 0}}, "y": {"field": "m", "type": "quantitative", "scale": {"domain": [0, 5], "range": [109, 5], "nice": false}, "axis": {"title": "APT1 3'UTR WT - miR138 activity", "values": [0, 1, 2, 3, 4, 5], "titlePadding": 3.3}}}},
  {"data": {"name": "bars"}, "transform": [{"filter": "datum.p==='B'"}, {"calculate": "datum.m-datum.e", "as": "lo"}, {"calculate": "datum.m+datum.e", "as": "hi"}], "mark": {"type": "rule", "color": "black", "strokeWidth": 1.2},
   "encoding": {"xOffset": {"field": "c", "type": "nominal", "scale": {"domain": ["Control", "NMDA"], "paddingInner": 0.28, "paddingOuter": 0}}, "y": {"field": "lo", "type": "quantitative", "scale": {"domain": [0, 5], "range": [109, 5], "nice": false}, "axis": {"title": "APT1 3'UTR WT - miR138 activity", "values": [0, 1, 2, 3, 4, 5], "titlePadding": 3.3}}, "y2": {"field": "hi"}}},
  {"data": {"name": "bars"}, "transform": [{"filter": "datum.p==='B'"}, {"calculate": "datum.m-datum.e", "as": "lo"}, {"calculate": "datum.m+datum.e", "as": "hi"}, {"fold": ["lo", "hi"], "as": ["kk", "w"]}], "mark": {"type": "tick", "color": "black", "thickness": 1.2, "size": 4, "orient": "horizontal"},
   "encoding": {"xOffset": {"field": "c", "type": "nominal", "scale": {"domain": ["Control", "NMDA"], "paddingInner": 0.28, "paddingOuter": 0}}, "y": {"field": "w", "type": "quantitative", "scale": {"domain": [0, 5], "range": [109, 5], "nice": false}, "axis": {"title": "APT1 3'UTR WT - miR138 activity", "values": [0, 1, 2, 3, 4, 5], "titlePadding": 3.3}}}},
  {"data": {"name": "pts"}, "transform": [{"filter": "datum.p==='B'"}, {"window": [{"op": "row_number", "as": "r"}], "groupby": ["g", "c"]}, {"calculate": "datum.c+'-'+datum.r", "as": "k"}], "mark": {"type": "point", "filled": true, "opacity": 1, "size": 24},
   "encoding": {"xOffset": {"field": "k", "type": "nominal", "scale": {"paddingInner": 0, "paddingOuter": 0}}, "y": {"field": "v", "type": "quantitative", "scale": {"domain": [0, 5], "range": [109, 5], "nice": false}, "axis": {"title": "APT1 3'UTR WT - miR138 activity", "values": [0, 1, 2, 3, 4, 5], "titlePadding": 3.3}},
    "color": {"field": "c", "type": "nominal", "scale": {"domain": ["Control", "NMDA"], "range": ["#dc3d1e", "#2442e0"]}, "legend": null},
    "shape": {"field": "c", "type": "nominal", "scale": {"domain": ["Control", "NMDA"], "range": ["circle", "square"]}, "legend": null}}},
  {"data": {"name": "br"}, "transform": [{"filter": "datum.p==='B'"}], "mark": {"type": "line", "color": "#808080", "strokeWidth": 1.2},
   "encoding": {"xOffset": {"field": "o", "type": "nominal", "scale": {"type": "point", "domain": ["S", "C", "M", "N", "E"], "padding": 0}}, "y": {"field": "y", "type": "quantitative", "scale": {"domain": [0, 5], "range": [109, 5], "nice": false}, "axis": {"title": "APT1 3'UTR WT - miR138 activity", "values": [0, 1, 2, 3, 4, 5], "titlePadding": 3.3}}, "detail": {"field": "id"}, "order": {"field": "q"}}},
  {"data": {"name": "lab"}, "transform": [{"filter": "datum.p==='B'"}], "mark": {"type": "text", "fontSize": 18, "dy": 5, "baseline": "alphabetic"},
   "encoding": {"xOffset": {"field": "o", "type": "nominal", "scale": {"type": "point", "domain": ["S", "C", "M", "N", "E"], "padding": 0}}, "y": {"field": "y", "type": "quantitative", "scale": {"domain": [0, 5], "range": [109, 5], "nice": false}, "axis": {"title": "APT1 3'UTR WT - miR138 activity", "values": [0, 1, 2, 3, 4, 5], "titlePadding": 3.3}}, "text": {"field": "t"}}}
 ],
 "resolve": {"scale": {"xOffset": "independent"}}},
{"width": 49, "height": 1, "data": {"values": [{}]}, "mark": {"type": "point", "opacity": 0}},
{"width": 159.4, "height": 109,
 "encoding": {"x": {"field": "g", "type": "nominal", "sort": null, "scale": {"domain": ["Control", "shAgo2", "WT", "S387A", "S387D"], "paddingInner": 0.31, "paddingOuter": 0.1}, "axis": {"title": null}}},
 "layer": [
  {"data": {"name": "bars"}, "transform": [{"filter": "datum.p==='C'"}], "mark": {"type": "bar", "fill": "white", "stroke": "black", "strokeWidth": 1.3},
   "encoding": {"xOffset": {"field": "c", "type": "nominal", "scale": {"domain": ["Control", "NMDA"], "paddingInner": 0.28, "paddingOuter": 0}}, "y": {"field": "m", "type": "quantitative", "scale": {"domain": [0, 8], "nice": false}, "axis": {"title": "LIN41 3'UTR WT - Let-7 activity", "values": [0, 1, 2, 3, 4, 5, 6, 7, 8], "titlePadding": 1.6}}}},
  {"data": {"name": "bars"}, "transform": [{"filter": "datum.p==='C'"}, {"calculate": "datum.m-datum.e", "as": "lo"}, {"calculate": "datum.m+datum.e", "as": "hi"}], "mark": {"type": "rule", "color": "black", "strokeWidth": 1.2},
   "encoding": {"xOffset": {"field": "c", "type": "nominal", "scale": {"domain": ["Control", "NMDA"], "paddingInner": 0.28, "paddingOuter": 0}}, "y": {"field": "lo", "type": "quantitative", "scale": {"domain": [0, 8], "nice": false}, "axis": {"title": "LIN41 3'UTR WT - Let-7 activity", "values": [0, 1, 2, 3, 4, 5, 6, 7, 8], "titlePadding": 1.6}}, "y2": {"field": "hi"}}},
  {"data": {"name": "bars"}, "transform": [{"filter": "datum.p==='C'"}, {"calculate": "datum.m-datum.e", "as": "lo"}, {"calculate": "datum.m+datum.e", "as": "hi"}, {"fold": ["lo", "hi"], "as": ["kk", "w"]}], "mark": {"type": "tick", "color": "black", "thickness": 1.2, "size": 4, "orient": "horizontal"},
   "encoding": {"xOffset": {"field": "c", "type": "nominal", "scale": {"domain": ["Control", "NMDA"], "paddingInner": 0.28, "paddingOuter": 0}}, "y": {"field": "w", "type": "quantitative", "scale": {"domain": [0, 8], "nice": false}, "axis": {"title": "LIN41 3'UTR WT - Let-7 activity", "values": [0, 1, 2, 3, 4, 5, 6, 7, 8], "titlePadding": 1.6}}}},
  {"data": {"name": "pts"}, "transform": [{"filter": "datum.p==='C'"}, {"window": [{"op": "row_number", "as": "r"}], "groupby": ["g", "c"]}, {"calculate": "datum.c+'-'+datum.r", "as": "k"}], "mark": {"type": "point", "filled": true, "opacity": 1, "size": 24},
   "encoding": {"xOffset": {"field": "k", "type": "nominal", "scale": {"paddingInner": 0, "paddingOuter": 0}}, "y": {"field": "v", "type": "quantitative", "scale": {"domain": [0, 8], "nice": false}, "axis": {"title": "LIN41 3'UTR WT - Let-7 activity", "values": [0, 1, 2, 3, 4, 5, 6, 7, 8], "titlePadding": 1.6}},
    "color": {"field": "c", "type": "nominal", "scale": {"domain": ["Control", "NMDA"], "range": ["#dc3d1e", "#2442e0"]}, "legend": {"orient": "none", "legendX": 102, "legendY": -7.7, "title": null}},
    "shape": {"field": "c", "type": "nominal", "scale": {"domain": ["Control", "NMDA"], "range": ["circle", "square"]}, "legend": {"orient": "none", "legendX": 102, "legendY": -7.7, "title": null}}}},
  {"data": {"name": "br"}, "transform": [{"filter": "datum.p==='C'"}], "mark": {"type": "line", "color": "#808080", "strokeWidth": 1.2},
   "encoding": {"xOffset": {"field": "o", "type": "nominal", "scale": {"type": "point", "domain": ["S", "C", "M", "N", "E"], "padding": 0}}, "y": {"field": "y", "type": "quantitative", "scale": {"domain": [0, 8], "nice": false}, "axis": {"title": "LIN41 3'UTR WT - Let-7 activity", "values": [0, 1, 2, 3, 4, 5, 6, 7, 8], "titlePadding": 1.6}}, "detail": {"field": "id"}, "order": {"field": "q"}}},
  {"data": {"name": "lab"}, "transform": [{"filter": "datum.p==='C'"}], "mark": {"type": "text", "fontSize": 18, "dy": 5, "baseline": "alphabetic"},
   "encoding": {"xOffset": {"field": "o", "type": "nominal", "scale": {"type": "point", "domain": ["S", "C", "M", "N", "E"], "padding": 0}}, "y": {"field": "y", "type": "quantitative", "scale": {"domain": [0, 8], "nice": false}, "axis": {"title": "LIN41 3'UTR WT - Let-7 activity", "values": [0, 1, 2, 3, 4, 5, 6, 7, 8], "titlePadding": 1.6}}, "text": {"field": "t"}}}
 ],
 "resolve": {"scale": {"xOffset": "independent"}}},
{"width": 156.7, "height": 133, "data": {"values": [{}]},
 "layer": [
  {"mark": {"type": "rect", "fill": "#f8f01e", "stroke": "black", "strokeWidth": 1.5}, "encoding": {"x": {"datum": -0.6, "type": "quantitative", "scale": {"domain": [0, 156.7], "nice": false, "zero": false}, "axis": null}, "x2": {"datum": 71}, "y": {"datum": 64, "type": "quantitative", "scale": {"domain": [0, 133], "reverse": true, "nice": false, "zero": false}, "axis": null}, "y2": {"datum": 84}}},
  {"mark": {"type": "text", "text": "Luciferase", "fontSize": 12}, "encoding": {"x": {"datum": 35.2, "type": "quantitative", "axis": null}, "y": {"datum": 74, "type": "quantitative", "axis": null}}},
  {"mark": {"type": "rule", "color": "black", "strokeWidth": 2.5}, "encoding": {"x": {"datum": 71, "type": "quantitative", "axis": null}, "x2": {"datum": 157.7}, "y": {"datum": 71.3, "type": "quantitative", "axis": null}}},
  {"mark": {"type": "point", "shape": "M-1,0.16L-0.37,0.16L-0.1,-0.16L0.16,0.16L1,0.16", "size": 1024, "filled": false, "stroke": "black", "strokeWidth": 2.5, "opacity": 1}, "encoding": {"x": {"datum": 111.7, "type": "quantitative", "axis": null}, "y": {"datum": 62.8, "type": "quantitative", "axis": null}}},
  {"mark": {"type": "text", "text": "miR-134", "fontSize": 12}, "encoding": {"x": {"datum": 135.2, "type": "quantitative", "axis": null}, "y": {"datum": 57.3, "type": "quantitative", "axis": null}}},
  {"mark": {"type": "text", "text": "PUM2", "fontSize": 11.5, "fontStyle": "italic", "align": "right"}, "encoding": {"x": {"datum": 111.6, "type": "quantitative", "axis": null}, "y": {"datum": 82.3, "type": "quantitative", "axis": null}}},
  {"mark": {"type": "text", "text": "3'UTR", "fontSize": 11.5, "align": "left"}, "encoding": {"x": {"datum": 114.8, "type": "quantitative", "axis": null}, "y": {"datum": 82.3, "type": "quantitative", "axis": null}}},
  {"mark": {"type": "text", "text": "D", "fontSize": 15, "fontWeight": "bold"}, "encoding": {"x": {"datum": -20.6, "type": "quantitative", "axis": null}, "y": {"datum": 61, "type": "quantitative", "axis": null}}}
 ]},
{"width": 55, "height": 1, "data": {"values": [{}]}, "mark": {"type": "point", "opacity": 0}},
{"width": 168.7, "height": 133, "data": {"values": [{}]},
 "layer": [
  {"mark": {"type": "rect", "fill": "#f8f01e", "stroke": "black", "strokeWidth": 1.5}, "encoding": {"x": {"datum": -15, "type": "quantitative", "scale": {"domain": [0, 168.7], "nice": false, "zero": false}, "axis": null}, "x2": {"datum": 58.4}, "y": {"datum": 65.7, "type": "quantitative", "scale": {"domain": [0, 133], "reverse": true, "nice": false, "zero": false}, "axis": null}, "y2": {"datum": 85.7}}},
  {"mark": {"type": "text", "text": "Luciferase", "fontSize": 12}, "encoding": {"x": {"datum": 21.7, "type": "quantitative", "axis": null}, "y": {"datum": 75.7, "type": "quantitative", "axis": null}}},
  {"mark": {"type": "rule", "color": "black", "strokeWidth": 2.5}, "encoding": {"x": {"datum": 58.4, "type": "quantitative", "axis": null}, "x2": {"datum": 145}, "y": {"datum": 72.3, "type": "quantitative", "axis": null}}},
  {"mark": {"type": "point", "shape": "M-1,0.16L-0.37,0.16L-0.1,-0.16L0.16,0.16L1,0.16", "size": 1100, "filled": false, "stroke": "black", "strokeWidth": 2.5, "opacity": 1}, "encoding": {"x": {"datum": 98.4, "type": "quantitative", "axis": null}, "y": {"datum": 63.8, "type": "quantitative", "axis": null}}},
  {"mark": {"type": "text", "text": "miR-134", "fontSize": 12}, "encoding": {"x": {"datum": 121.7, "type": "quantitative", "axis": null}, "y": {"datum": 58.3, "type": "quantitative", "axis": null}}},
  {"mark": {"type": "text", "text": "CREB1", "fontSize": 11.5, "fontStyle": "italic", "align": "right"}, "encoding": {"x": {"datum": 100.8, "type": "quantitative", "axis": null}, "y": {"datum": 84, "type": "quantitative", "axis": null}}},
  {"mark": {"type": "text", "text": "3'UTR", "fontSize": 11.5, "align": "left"}, "encoding": {"x": {"datum": 104, "type": "quantitative", "axis": null}, "y": {"datum": 84, "type": "quantitative", "axis": null}}},
  {"mark": {"type": "text", "text": "E", "fontSize": 15, "fontWeight": "bold"}, "encoding": {"x": {"datum": -26.6, "type": "quantitative", "axis": null}, "y": {"datum": 61, "type": "quantitative", "axis": null}}}
 ]},
{"width": 49, "height": 1, "data": {"values": [{}]}, "mark": {"type": "point", "opacity": 0}},
{"width": 1, "height": 1, "data": {"values": [{}]}, "mark": {"type": "point", "opacity": 0}},
{"width": 156.7, "height": 102.6,
 "encoding": {"x": {"field": "g", "type": "nominal", "sort": null, "scale": {"domain": ["Control", "shAgo2", "Wt", "S387A", "S387D"], "range": [4.4, 156.7], "paddingInner": 0.33, "paddingOuter": 0.106}, "axis": {"title": null}}},
 "layer": [
  {"data": {"name": "bars"}, "transform": [{"filter": "datum.p==='D'"}], "mark": {"type": "bar", "fill": "white", "stroke": "black", "strokeWidth": 1.3},
   "encoding": {"xOffset": {"field": "c", "type": "nominal", "scale": {"domain": ["Control", "NMDA"], "paddingInner": 0.28, "paddingOuter": 0}}, "y": {"field": "m", "type": "quantitative", "scale": {"domain": [0, 4], "nice": false}, "axis": {"title": "PUM2 3'UTR WT - miR134 activity", "values": [0, 1, 2, 3, 4], "titlePadding": 13.4, "offset": -4.4}}}},
  {"data": {"name": "bars"}, "transform": [{"filter": "datum.p==='D'"}, {"calculate": "datum.m-datum.e", "as": "lo"}, {"calculate": "datum.m+datum.e", "as": "hi"}], "mark": {"type": "rule", "color": "black", "strokeWidth": 1.2},
   "encoding": {"xOffset": {"field": "c", "type": "nominal", "scale": {"domain": ["Control", "NMDA"], "paddingInner": 0.28, "paddingOuter": 0}}, "y": {"field": "lo", "type": "quantitative", "scale": {"domain": [0, 4], "nice": false}, "axis": {"title": "PUM2 3'UTR WT - miR134 activity", "values": [0, 1, 2, 3, 4], "titlePadding": 13.4, "offset": -4.4}}, "y2": {"field": "hi"}}},
  {"data": {"name": "bars"}, "transform": [{"filter": "datum.p==='D'"}, {"calculate": "datum.m-datum.e", "as": "lo"}, {"calculate": "datum.m+datum.e", "as": "hi"}, {"fold": ["lo", "hi"], "as": ["kk", "w"]}], "mark": {"type": "tick", "color": "black", "thickness": 1.2, "size": 4, "orient": "horizontal"},
   "encoding": {"xOffset": {"field": "c", "type": "nominal", "scale": {"domain": ["Control", "NMDA"], "paddingInner": 0.28, "paddingOuter": 0}}, "y": {"field": "w", "type": "quantitative", "scale": {"domain": [0, 4], "nice": false}, "axis": {"title": "PUM2 3'UTR WT - miR134 activity", "values": [0, 1, 2, 3, 4], "titlePadding": 13.4, "offset": -4.4}}}},
  {"data": {"name": "pts"}, "transform": [{"filter": "datum.p==='D'"}, {"window": [{"op": "row_number", "as": "r"}], "groupby": ["g", "c"]}, {"calculate": "datum.c+'-'+datum.r", "as": "k"}], "mark": {"type": "point", "filled": true, "opacity": 1, "size": 24},
   "encoding": {"xOffset": {"field": "k", "type": "nominal", "scale": {"paddingInner": 0, "paddingOuter": 0}}, "y": {"field": "v", "type": "quantitative", "scale": {"domain": [0, 4], "nice": false}, "axis": {"title": "PUM2 3'UTR WT - miR134 activity", "values": [0, 1, 2, 3, 4], "titlePadding": 13.4, "offset": -4.4}},
    "color": {"field": "c", "type": "nominal", "scale": {"domain": ["Control", "NMDA"], "range": ["#dc3d1e", "#2442e0"]}, "legend": null},
    "shape": {"field": "c", "type": "nominal", "scale": {"domain": ["Control", "NMDA"], "range": ["circle", "square"]}, "legend": null}}},
  {"data": {"name": "br"}, "transform": [{"filter": "datum.p==='D'"}], "mark": {"type": "line", "color": "#808080", "strokeWidth": 1.2},
   "encoding": {"xOffset": {"field": "o", "type": "nominal", "scale": {"type": "point", "domain": ["S", "C", "M", "N", "E"], "padding": 0}}, "y": {"field": "y", "type": "quantitative", "scale": {"domain": [0, 4], "nice": false}, "axis": {"title": "PUM2 3'UTR WT - miR134 activity", "values": [0, 1, 2, 3, 4], "titlePadding": 13.4, "offset": -4.4}}, "detail": {"field": "id"}, "order": {"field": "q"}}},
  {"data": {"name": "lab"}, "transform": [{"filter": "datum.p==='D'"}], "mark": {"type": "text", "fontSize": 18, "dy": 5, "baseline": "alphabetic"},
   "encoding": {"xOffset": {"field": "o", "type": "nominal", "scale": {"type": "point", "domain": ["S", "C", "M", "N", "E"], "padding": 0}}, "y": {"field": "y", "type": "quantitative", "scale": {"domain": [0, 4], "nice": false}, "axis": {"title": "PUM2 3'UTR WT - miR134 activity", "values": [0, 1, 2, 3, 4], "titlePadding": 13.4, "offset": -4.4}}, "text": {"field": "t"}}}
 ],
 "resolve": {"scale": {"xOffset": "independent"}}},
{"width": 55, "height": 1, "data": {"values": [{}]}, "mark": {"type": "point", "opacity": 0}},
{"width": 168.7, "height": 102,
 "encoding": {"x": {"field": "g", "type": "nominal", "sort": null, "scale": {"domain": ["Control", "shAgo2", "Wt", "S387A", "S387D"], "range": [1, 168.7], "paddingInner": 0.34, "paddingOuter": 0.115}, "axis": {"title": null}}},
 "layer": [
  {"data": {"name": "bars"}, "transform": [{"filter": "datum.p==='E'"}], "mark": {"type": "bar", "fill": "white", "stroke": "black", "strokeWidth": 1.3},
   "encoding": {"xOffset": {"field": "c", "type": "nominal", "scale": {"domain": ["Control", "NMDA"], "paddingInner": 0.28, "paddingOuter": 0}}, "y": {"field": "m", "type": "quantitative", "scale": {"domain": [0, 4], "nice": false}, "axis": {"title": "CREB1 3'UTR WT - miR134 activity", "values": [0, 1, 2, 3, 4], "titlePadding": 11, "offset": -1}}}},
  {"data": {"name": "bars"}, "transform": [{"filter": "datum.p==='E'"}, {"calculate": "datum.m-datum.e", "as": "lo"}, {"calculate": "datum.m+datum.e", "as": "hi"}], "mark": {"type": "rule", "color": "black", "strokeWidth": 1.2},
   "encoding": {"xOffset": {"field": "c", "type": "nominal", "scale": {"domain": ["Control", "NMDA"], "paddingInner": 0.28, "paddingOuter": 0}}, "y": {"field": "lo", "type": "quantitative", "scale": {"domain": [0, 4], "nice": false}, "axis": {"title": "CREB1 3'UTR WT - miR134 activity", "values": [0, 1, 2, 3, 4], "titlePadding": 11, "offset": -1}}, "y2": {"field": "hi"}}},
  {"data": {"name": "bars"}, "transform": [{"filter": "datum.p==='E'"}, {"calculate": "datum.m-datum.e", "as": "lo"}, {"calculate": "datum.m+datum.e", "as": "hi"}, {"fold": ["lo", "hi"], "as": ["kk", "w"]}], "mark": {"type": "tick", "color": "black", "thickness": 1.2, "size": 4, "orient": "horizontal"},
   "encoding": {"xOffset": {"field": "c", "type": "nominal", "scale": {"domain": ["Control", "NMDA"], "paddingInner": 0.28, "paddingOuter": 0}}, "y": {"field": "w", "type": "quantitative", "scale": {"domain": [0, 4], "nice": false}, "axis": {"title": "CREB1 3'UTR WT - miR134 activity", "values": [0, 1, 2, 3, 4], "titlePadding": 11, "offset": -1}}}},
  {"data": {"name": "pts"}, "transform": [{"filter": "datum.p==='E'"}, {"window": [{"op": "row_number", "as": "r"}], "groupby": ["g", "c"]}, {"calculate": "datum.c+'-'+datum.r", "as": "k"}], "mark": {"type": "point", "filled": true, "opacity": 1, "size": 24},
   "encoding": {"xOffset": {"field": "k", "type": "nominal", "scale": {"paddingInner": 0, "paddingOuter": 0}}, "y": {"field": "v", "type": "quantitative", "scale": {"domain": [0, 4], "nice": false}, "axis": {"title": "CREB1 3'UTR WT - miR134 activity", "values": [0, 1, 2, 3, 4], "titlePadding": 11, "offset": -1}},
    "color": {"field": "c", "type": "nominal", "scale": {"domain": ["Control", "NMDA"], "range": ["#dc3d1e", "#2442e0"]}, "legend": {"orient": "none", "legendX": 188, "legendY": 2, "title": null}},
    "shape": {"field": "c", "type": "nominal", "scale": {"domain": ["Control", "NMDA"], "range": ["circle", "square"]}, "legend": {"orient": "none", "legendX": 188, "legendY": 2, "title": null}}}},
  {"data": {"name": "br"}, "transform": [{"filter": "datum.p==='E'"}], "mark": {"type": "line", "color": "#808080", "strokeWidth": 1.2},
   "encoding": {"xOffset": {"field": "o", "type": "nominal", "scale": {"type": "point", "domain": ["S", "C", "M", "N", "E"], "padding": 0}}, "y": {"field": "y", "type": "quantitative", "scale": {"domain": [0, 4], "nice": false}, "axis": {"title": "CREB1 3'UTR WT - miR134 activity", "values": [0, 1, 2, 3, 4], "titlePadding": 11, "offset": -1}}, "detail": {"field": "id"}, "order": {"field": "q"}}},
  {"data": {"name": "lab"}, "transform": [{"filter": "datum.p==='E'"}], "mark": {"type": "text", "fontSize": 18, "dy": 5, "baseline": "alphabetic"},
   "encoding": {"xOffset": {"field": "o", "type": "nominal", "scale": {"type": "point", "domain": ["S", "C", "M", "N", "E"], "padding": 0}}, "y": {"field": "y", "type": "quantitative", "scale": {"domain": [0, 4], "nice": false}, "axis": {"title": "CREB1 3'UTR WT - miR134 activity", "values": [0, 1, 2, 3, 4], "titlePadding": 11, "offset": -1}}, "text": {"field": "t"}}}
 ],
 "resolve": {"scale": {"xOffset": "independent"}}},
{"width": 49, "height": 1, "data": {"values": [{}]}, "mark": {"type": "point", "opacity": 0}},
{"width": 1, "height": 1, "data": {"values": [{}]}, "mark": {"type": "point", "opacity": 0}},
{"width": 171, "height": 140, "data": {"values": [{}]},
 "layer": [
  {"mark": {"type": "rect", "fill": "#f8f01e", "stroke": "black", "strokeWidth": 1.5}, "encoding": {"x": {"datum": -0.6, "type": "quantitative", "scale": {"domain": [0, 171], "nice": false, "zero": false}, "axis": null}, "x2": {"datum": 71.7}, "y": {"datum": 73.2, "type": "quantitative", "scale": {"domain": [0, 140], "reverse": true, "nice": false, "zero": false}, "axis": null}, "y2": {"datum": 96.5}}},
  {"mark": {"type": "text", "text": "Luciferase", "fontSize": 12}, "encoding": {"x": {"datum": 35.5, "type": "quantitative", "axis": null}, "y": {"datum": 84.8, "type": "quantitative", "axis": null}}},
  {"mark": {"type": "rule", "color": "black", "strokeWidth": 2.5}, "encoding": {"x": {"datum": 71.7, "type": "quantitative", "axis": null}, "x2": {"datum": 157.7}, "y": {"datum": 83.2, "type": "quantitative", "axis": null}}},
  {"mark": {"type": "point", "shape": "M-1,0.16L-0.37,0.16L-0.1,-0.16L0.16,0.16L1,0.16", "size": 1000, "filled": false, "stroke": "black", "strokeWidth": 2.5, "opacity": 1}, "encoding": {"x": {"datum": 111.9, "type": "quantitative", "axis": null}, "y": {"datum": 74.7, "type": "quantitative", "axis": null}}},
  {"mark": {"type": "text", "text": "miR-134", "fontSize": 12}, "encoding": {"x": {"datum": 135.2, "type": "quantitative", "axis": null}, "y": {"datum": 66.5, "type": "quantitative", "axis": null}}},
  {"mark": {"type": "text", "text": "LIMK1", "fontSize": 11.5, "fontStyle": "italic", "align": "right"}, "encoding": {"x": {"datum": 113.2, "type": "quantitative", "axis": null}, "y": {"datum": 94.8, "type": "quantitative", "axis": null}}},
  {"mark": {"type": "text", "text": "3'UTR", "fontSize": 11.5, "align": "left"}, "encoding": {"x": {"datum": 116.4, "type": "quantitative", "axis": null}, "y": {"datum": 94.8, "type": "quantitative", "axis": null}}},
  {"mark": {"type": "text", "text": "F", "fontSize": 15, "fontWeight": "bold"}, "encoding": {"x": {"datum": -14, "type": "quantitative", "axis": null}, "y": {"datum": 73.5, "type": "quantitative", "axis": null}}}
 ]},
{"width": 55, "height": 1, "data": {"values": [{}]}, "mark": {"type": "point", "opacity": 0}},
{"width": 170.7, "height": 140, "data": {"values": [{}]},
 "layer": [
  {"mark": {"type": "rect", "fill": "#f8f01e", "stroke": "black", "strokeWidth": 1.5}, "encoding": {"x": {"datum": -11.6, "type": "quantitative", "scale": {"domain": [0, 170.7], "nice": false, "zero": false}, "axis": null}, "x2": {"datum": 58.4}, "y": {"datum": 73.2, "type": "quantitative", "scale": {"domain": [0, 140], "reverse": true, "nice": false, "zero": false}, "axis": null}, "y2": {"datum": 96.5}}},
  {"mark": {"type": "text", "text": "Luciferase", "fontSize": 12}, "encoding": {"x": {"datum": 23.4, "type": "quantitative", "axis": null}, "y": {"datum": 84.8, "type": "quantitative", "axis": null}}},
  {"mark": {"type": "rule", "color": "black", "strokeWidth": 2.5}, "encoding": {"x": {"datum": 58.4, "type": "quantitative", "axis": null}, "x2": {"datum": 144.4}, "y": {"datum": 83.2, "type": "quantitative", "axis": null}}},
  {"mark": {"type": "point", "shape": "M-1,0.16L-0.37,0.16L-0.1,-0.16L0.16,0.16L1,0.16", "size": 1024, "filled": false, "stroke": "black", "strokeWidth": 2.5, "opacity": 1}, "encoding": {"x": {"datum": 96.7, "type": "quantitative", "axis": null}, "y": {"datum": 74.7, "type": "quantitative", "axis": null}}},
  {"mark": {"type": "text", "text": "miR-138", "fontSize": 12}, "encoding": {"x": {"datum": 123, "type": "quantitative", "axis": null}, "y": {"datum": 66.5, "type": "quantitative", "axis": null}}},
  {"mark": {"type": "text", "text": "APT1", "fontSize": 11.5, "fontStyle": "italic", "align": "right"}, "encoding": {"x": {"datum": 98.4, "type": "quantitative", "axis": null}, "y": {"datum": 93.2, "type": "quantitative", "axis": null}}},
  {"mark": {"type": "text", "text": "3'UTR", "fontSize": 11.5, "align": "left"}, "encoding": {"x": {"datum": 101.6, "type": "quantitative", "axis": null}, "y": {"datum": 93.2, "type": "quantitative", "axis": null}}},
  {"mark": {"type": "text", "text": "G", "fontSize": 15, "fontWeight": "bold"}, "encoding": {"x": {"datum": -27.3, "type": "quantitative", "axis": null}, "y": {"datum": 71.5, "type": "quantitative", "axis": null}}}
 ]},
{"width": 49, "height": 1, "data": {"values": [{}]}, "mark": {"type": "point", "opacity": 0}},
{"width": 1, "height": 1, "data": {"values": [{}]}, "mark": {"type": "point", "opacity": 0}},
{"width": 171, "height": 100,
 "encoding": {"x": {"field": "g", "type": "nominal", "sort": null, "scale": {"domain": ["DMSO", "AKT-1/2", "KP372-1", "Chel", "CT99021"], "paddingInner": 0.37, "paddingOuter": 0.185}, "axis": {"title": null}}},
 "layer": [
  {"data": {"name": "bars"}, "transform": [{"filter": "datum.p==='F'"}], "mark": {"type": "bar", "fill": "white", "stroke": "black", "strokeWidth": 1.3},
   "encoding": {"xOffset": {"field": "c", "type": "nominal", "scale": {"domain": ["Control", "NMDA"], "paddingInner": 0.28, "paddingOuter": 0}}, "y": {"field": "m", "type": "quantitative", "scale": {"domain": [0, 3], "nice": false}, "axis": {"title": "LIMK1 3'UTR WT - miR134 activity", "values": [0, 1, 2, 3], "titlePadding": 9}}}},
  {"data": {"name": "bars"}, "transform": [{"filter": "datum.p==='F'"}, {"calculate": "datum.m-datum.e", "as": "lo"}, {"calculate": "datum.m+datum.e", "as": "hi"}], "mark": {"type": "rule", "color": "black", "strokeWidth": 1.2},
   "encoding": {"xOffset": {"field": "c", "type": "nominal", "scale": {"domain": ["Control", "NMDA"], "paddingInner": 0.28, "paddingOuter": 0}}, "y": {"field": "lo", "type": "quantitative", "scale": {"domain": [0, 3], "nice": false}, "axis": {"title": "LIMK1 3'UTR WT - miR134 activity", "values": [0, 1, 2, 3], "titlePadding": 9}}, "y2": {"field": "hi"}}},
  {"data": {"name": "bars"}, "transform": [{"filter": "datum.p==='F'"}, {"calculate": "datum.m-datum.e", "as": "lo"}, {"calculate": "datum.m+datum.e", "as": "hi"}, {"fold": ["lo", "hi"], "as": ["kk", "w"]}], "mark": {"type": "tick", "color": "black", "thickness": 1.2, "size": 4, "orient": "horizontal"},
   "encoding": {"xOffset": {"field": "c", "type": "nominal", "scale": {"domain": ["Control", "NMDA"], "paddingInner": 0.28, "paddingOuter": 0}}, "y": {"field": "w", "type": "quantitative", "scale": {"domain": [0, 3], "nice": false}, "axis": {"title": "LIMK1 3'UTR WT - miR134 activity", "values": [0, 1, 2, 3], "titlePadding": 9}}}},
  {"data": {"name": "pts"}, "transform": [{"filter": "datum.p==='F'"}, {"window": [{"op": "row_number", "as": "r"}], "groupby": ["g", "c"]}, {"calculate": "datum.c+'-'+datum.r", "as": "k"}], "mark": {"type": "point", "filled": true, "opacity": 1, "size": 24},
   "encoding": {"xOffset": {"field": "k", "type": "nominal", "scale": {"paddingInner": 0, "paddingOuter": 0}}, "y": {"field": "v", "type": "quantitative", "scale": {"domain": [0, 3], "nice": false}, "axis": {"title": "LIMK1 3'UTR WT - miR134 activity", "values": [0, 1, 2, 3], "titlePadding": 9}},
    "color": {"field": "c", "type": "nominal", "scale": {"domain": ["Control", "NMDA"], "range": ["#dc3d1e", "#2442e0"]}, "legend": null},
    "shape": {"field": "c", "type": "nominal", "scale": {"domain": ["Control", "NMDA"], "range": ["circle", "square"]}, "legend": null}}},
  {"data": {"name": "br"}, "transform": [{"filter": "datum.p==='F'"}], "mark": {"type": "line", "color": "#808080", "strokeWidth": 1.2},
   "encoding": {"xOffset": {"field": "o", "type": "nominal", "scale": {"type": "point", "domain": ["S", "C", "M", "N", "E"], "padding": 0}}, "y": {"field": "y", "type": "quantitative", "scale": {"domain": [0, 3], "nice": false}, "axis": {"title": "LIMK1 3'UTR WT - miR134 activity", "values": [0, 1, 2, 3], "titlePadding": 9}}, "detail": {"field": "id"}, "order": {"field": "q"}}},
  {"data": {"name": "lab"}, "transform": [{"filter": "datum.p==='F'"}], "mark": {"type": "text", "fontSize": 18, "dy": 5, "baseline": "alphabetic"},
   "encoding": {"xOffset": {"field": "o", "type": "nominal", "scale": {"type": "point", "domain": ["S", "C", "M", "N", "E"], "padding": 0}}, "y": {"field": "y", "type": "quantitative", "scale": {"domain": [0, 3], "nice": false}, "axis": {"title": "LIMK1 3'UTR WT - miR134 activity", "values": [0, 1, 2, 3], "titlePadding": 9}}, "text": {"field": "t"}}}
 ],
 "resolve": {"scale": {"xOffset": "independent"}}},
{"width": 55, "height": 1, "data": {"values": [{}]}, "mark": {"type": "point", "opacity": 0}},
{"width": 170.7, "height": 100.6,
 "encoding": {"x": {"field": "g", "type": "nominal", "sort": null, "scale": {"domain": ["DMSO", "AKT-1/2", "KP372-1", "Chel", "CT99021"], "range": [1.7, 170.7], "paddingInner": 0.35, "paddingOuter": 0.132}, "axis": {"title": null}}},
 "layer": [
  {"data": {"name": "bars"}, "transform": [{"filter": "datum.p==='G'"}], "mark": {"type": "bar", "fill": "white", "stroke": "black", "strokeWidth": 1.3},
   "encoding": {"xOffset": {"field": "c", "type": "nominal", "scale": {"domain": ["Control", "NMDA"], "paddingInner": 0.28, "paddingOuter": 0}}, "y": {"field": "m", "type": "quantitative", "scale": {"domain": [0, 2], "nice": false}, "axis": {"title": "APT1 3'UTR WT - miR138 activity", "values": [0, 1, 2], "titlePadding": 3.3, "offset": -1.7}}}},
  {"data": {"name": "bars"}, "transform": [{"filter": "datum.p==='G'"}, {"calculate": "datum.m-datum.e", "as": "lo"}, {"calculate": "datum.m+datum.e", "as": "hi"}], "mark": {"type": "rule", "color": "black", "strokeWidth": 1.2},
   "encoding": {"xOffset": {"field": "c", "type": "nominal", "scale": {"domain": ["Control", "NMDA"], "paddingInner": 0.28, "paddingOuter": 0}}, "y": {"field": "lo", "type": "quantitative", "scale": {"domain": [0, 2], "nice": false}, "axis": {"title": "APT1 3'UTR WT - miR138 activity", "values": [0, 1, 2], "titlePadding": 3.3, "offset": -1.7}}, "y2": {"field": "hi"}}},
  {"data": {"name": "bars"}, "transform": [{"filter": "datum.p==='G'"}, {"calculate": "datum.m-datum.e", "as": "lo"}, {"calculate": "datum.m+datum.e", "as": "hi"}, {"fold": ["lo", "hi"], "as": ["kk", "w"]}], "mark": {"type": "tick", "color": "black", "thickness": 1.2, "size": 4, "orient": "horizontal"},
   "encoding": {"xOffset": {"field": "c", "type": "nominal", "scale": {"domain": ["Control", "NMDA"], "paddingInner": 0.28, "paddingOuter": 0}}, "y": {"field": "w", "type": "quantitative", "scale": {"domain": [0, 2], "nice": false}, "axis": {"title": "APT1 3'UTR WT - miR138 activity", "values": [0, 1, 2], "titlePadding": 3.3, "offset": -1.7}}}},
  {"data": {"name": "pts"}, "transform": [{"filter": "datum.p==='G'"}, {"window": [{"op": "row_number", "as": "r"}], "groupby": ["g", "c"]}, {"calculate": "datum.c+'-'+datum.r", "as": "k"}], "mark": {"type": "point", "filled": true, "opacity": 1, "size": 24},
   "encoding": {"xOffset": {"field": "k", "type": "nominal", "scale": {"paddingInner": 0, "paddingOuter": 0}}, "y": {"field": "v", "type": "quantitative", "scale": {"domain": [0, 2], "nice": false}, "axis": {"title": "APT1 3'UTR WT - miR138 activity", "values": [0, 1, 2], "titlePadding": 3.3, "offset": -1.7}},
    "color": {"field": "c", "type": "nominal", "scale": {"domain": ["Control", "NMDA"], "range": ["#dc3d1e", "#2442e0"]}, "legend": {"orient": "none", "legendX": 190, "legendY": -38, "title": null}},
    "shape": {"field": "c", "type": "nominal", "scale": {"domain": ["Control", "NMDA"], "range": ["circle", "square"]}, "legend": {"orient": "none", "legendX": 190, "legendY": -38, "title": null}}}},
  {"data": {"name": "br"}, "transform": [{"filter": "datum.p==='G'"}], "mark": {"type": "line", "color": "#808080", "strokeWidth": 1.2},
   "encoding": {"xOffset": {"field": "o", "type": "nominal", "scale": {"type": "point", "domain": ["S", "C", "M", "N", "E"], "padding": 0}}, "y": {"field": "y", "type": "quantitative", "scale": {"domain": [0, 2], "nice": false}, "axis": {"title": "APT1 3'UTR WT - miR138 activity", "values": [0, 1, 2], "titlePadding": 3.3, "offset": -1.7}}, "detail": {"field": "id"}, "order": {"field": "q"}}},
  {"data": {"name": "lab"}, "transform": [{"filter": "datum.p==='G'"}], "mark": {"type": "text", "fontSize": 18, "dy": 5, "baseline": "alphabetic"},
   "encoding": {"xOffset": {"field": "o", "type": "nominal", "scale": {"type": "point", "domain": ["S", "C", "M", "N", "E"], "padding": 0}}, "y": {"field": "y", "type": "quantitative", "scale": {"domain": [0, 2], "nice": false}, "axis": {"title": "APT1 3'UTR WT - miR138 activity", "values": [0, 1, 2], "titlePadding": 3.3, "offset": -1.7}}, "text": {"field": "t"}}}
 ],
 "resolve": {"scale": {"xOffset": "independent"}}},
{"width": 49, "height": 1, "data": {"values": [{}]}, "mark": {"type": "point", "opacity": 0}},
{"width": 1, "height": 1, "data": {"values": [{}]}, "mark": {"type": "point", "opacity": 0}}
]
}
